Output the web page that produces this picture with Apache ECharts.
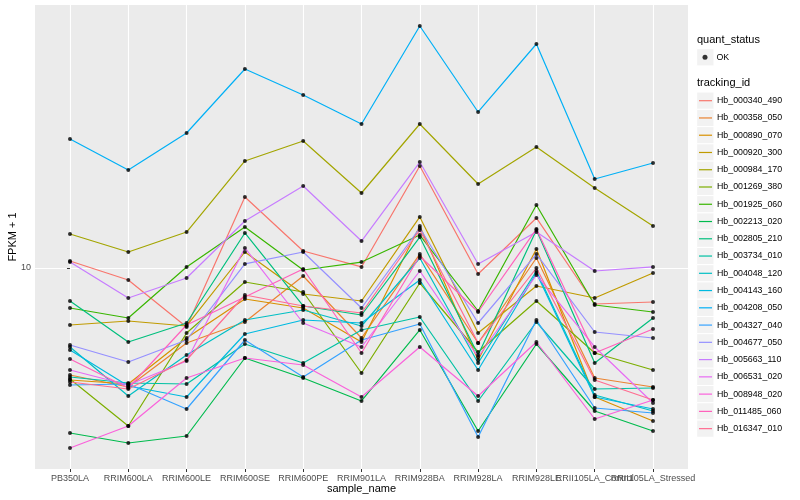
<!DOCTYPE html>
<html><head><meta charset="utf-8">
<script src="https://cdn.jsdelivr.net/npm/echarts@6/dist/echarts.min.js"></script>
<style>html,body{margin:0;padding:0;background:#fff}#c{width:800px;height:500px}</style>
</head><body><div id="c"></div>
<script>
const categories = ['PB350LA','RRIM600LA','RRIM600LE','RRIM600SE','RRIM600PE','RRIM901LA','RRIM928BA','RRIM928LA','RRIM928LE','RRII105LA_Control','RRII105LA_Stressed'];
const trackingIds = ['Hb_000340_490','Hb_000358_050','Hb_000890_070','Hb_000920_300','Hb_000984_170','Hb_001269_380','Hb_001925_060','Hb_002213_020','Hb_002805_210','Hb_003734_010','Hb_004048_120','Hb_004143_160','Hb_004208_050','Hb_004327_040','Hb_004677_050','Hb_005663_110','Hb_006531_020','Hb_008948_020','Hb_011485_060','Hb_016347_010'];
const colors = ['#F8766D','#EA8331','#D89000','#C09B00','#A3A500','#7CAE00','#39B600','#00BB4E','#00BF7D','#00C1A3','#00BFC4','#00BAE0','#00B0F6','#35A2FF','#9590FF','#C77CFF','#E76BF3','#FA62DB','#FF62BC','#FF6C91'];
const yTickValues = [10];

// FPKM + 1 per sample, one array per tracking_id
const hb_000340_490 = [10.47, 9.241, 6.783, 15.95, 11.18, 10.07, 19.56, 9.613, 13.90, 7.891, 7.996];
const hb_000358_050 = [4.946, 4.571, 6.105, 7.010, 9.487, 6.310, 10.96, 6.105, 10.68, 4.850, 4.571];
const hb_000890_070 = [4.786, 4.662, 6.310, 8.155, 7.686, 6.146, 13.18, 5.459, 11.33, 4.280, 3.655];
const hb_000920_300 = [6.873, 7.056, 6.828, 11.11, 8.428, 8.049, 13.99, 6.521, 8.883, 8.209, 9.677];
const hb_000984_170 = [12.51, 11.11, 12.67, 20.22, 23.06, 16.38, 25.79, 17.38, 22.17, 16.93, 13.18];
const hb_001269_380 = [4.818, 3.536, 6.521, 9.120, 8.540, 5.012, 9.060, 5.754, 8.049, 5.717, 5.112];
const hb_001925_060 = [7.686, 7.197, 10.07, 13.10, 9.869, 10.40, 12.42, 7.536, 15.14, 7.839, 7.487];
const hb_002213_020 = [3.377, 3.162, 3.311, 5.532, 4.850, 4.169, 6.651, 3.422, 6.065, 3.903, 3.422];
const hb_002805_210 = [8.049, 6.146, 6.964, 12.59, 7.788, 7.340, 12.26, 5.642, 12.84, 5.353, 7.197];
const hb_003734_010 = [4.882, 4.693, 4.662, 6.065, 5.353, 6.651, 7.244, 4.169, 7.010, 4.511, 4.541];
const hb_004048_120 = [5.947, 4.308, 5.642, 7.103, 7.586, 6.828, 10.68, 5.353, 9.805, 4.337, 3.903];
const hb_004143_160 = [5.831, 4.601, 4.280, 6.478, 7.103, 6.964, 9.241, 5.112, 9.677, 4.280, 3.955];
const hb_004208_050 = [23.37, 19.05, 24.31, 37.03, 31.21, 25.79, 49.14, 27.91, 43.65, 17.96, 19.95];
const hb_004327_040 = [4.631, 4.662, 3.955, 6.227, 4.882, 6.227, 6.918, 3.290, 7.103, 3.981, 3.852];
const hb_004677_050 = [6.026, 5.388, 6.227, 10.27, 11.11, 7.686, 13.01, 6.964, 10.96, 6.564, 6.310];
const hb_005663_110 = [10.40, 8.209, 9.363, 13.62, 17.15, 11.94, 20.08, 10.27, 12.67, 9.805, 10.07];
const hb_006531_020 = [5.112, 4.631, 5.424, 11.41, 6.964, 5.947, 9.805, 5.568, 9.550, 5.947, 4.114];
const hb_008948_020 = [3.060, 3.536, 4.850, 5.532, 5.283, 4.280, 5.947, 4.308, 6.146, 3.703, 4.196];
const hb_011485_060 = [5.495, 4.541, 6.873, 8.263, 9.934, 5.717, 10.82, 7.487, 12.92, 5.717, 6.695];
const hb_016347_010 = [4.724, 4.511, 5.459, 8.373, 7.788, 7.438, 12.84, 6.105, 10.00, 4.786, 4.196];

const seriesValues = [hb_000340_490, hb_000358_050, hb_000890_070, hb_000920_300, hb_000984_170, hb_001269_380, hb_001925_060, hb_002213_020, hb_002805_210, hb_003734_010, hb_004048_120, hb_004143_160, hb_004208_050, hb_004327_040, hb_004677_050, hb_005663_110, hb_006531_020, hb_008948_020, hb_011485_060, hb_016347_010];

const FONT = "'Liberation Sans', Arial, sans-serif";
const NARROW = "'Liberation Sans Narrow', 'Liberation Sans', Arial, sans-serif";
const catIdx = categories.map((_, i) => i);
const evenIdx = catIdx.filter(i => i % 2 === 0);
const oddIdx = catIdx.filter(i => i % 2 === 1);

const lineSeries = trackingIds.map((id, k) => ({
  name: id, type: 'line', symbol: 'none', showSymbol: false, silent: true,
  data: seriesValues[k].map((v, i) => [i, v]),
  lineStyle: { width: 1.2, color: colors[k] }, itemStyle: { color: colors[k] }, z: 2
}));
const points = [];
seriesValues.forEach(arr => arr.forEach((v, i) => points.push([i, v])));
const okSeries = { name: 'OK', type: 'scatter', data: points, symbol: 'circle', symbolSize: 4,
  itemStyle: { color: '#000' }, z: 3, silent: true };

// legend key backgrounds
const KEY = 17.26;
const keyRects = [{ type: 'rect', shape: { x: 696.7, y: 57.3 - KEY / 2, width: KEY, height: KEY },
  style: { fill: '#F2F2F2', stroke: '#fff', lineWidth: 1 }, z: 0 }];
trackingIds.forEach((_, k) => keyRects.push({ type: 'rect',
  shape: { x: 696.7, y: 92.07 + k * KEY, width: KEY, height: KEY },
  style: { fill: '#F2F2F2', stroke: '#fff', lineWidth: 1 }, z: 0 }));

const labelStyle = { margin: 5, fontSize: 9, color: '#4D4D4D', fontFamily: NARROW,
  showMinLabel: true, showMaxLabel: true, hideOverlap: false,
  formatter: v => categories[Math.round(v)] || '' };

const chart = echarts.init(document.getElementById('c'), null, { renderer: 'canvas' });
chart.setOption({
  animation: false,
  backgroundColor: '#fff',
  title: [
    { text: 'quant_status', left: 697, top: 34, padding: 0, textStyle: { fontSize: 11, fontWeight: 'normal', color: '#000', fontFamily: FONT } },
    { text: 'tracking_id', left: 697, top: 77.5, padding: 0, textStyle: { fontSize: 11, fontWeight: 'normal', color: '#000', fontFamily: FONT } }
  ],
  graphic: keyRects,
  legend: [
    { data: ['OK'], orient: 'vertical', left: 702.5, top: 51.3, padding: 0, itemWidth: 5, itemHeight: 5, icon: 'circle',
      selectedMode: false, itemStyle: { color: '#000' },
      textStyle: { fontSize: 8.8, lineHeight: 12, color: '#000', fontFamily: FONT, padding: [0, 0, 0, 4] } },
    { data: trackingIds.map((id, k) => ({ name: id, icon: 'rect', itemStyle: { color: colors[k] } })),
      orient: 'vertical', left: 699, top: 94.7, padding: 0, itemWidth: 13, itemHeight: 1.2, itemGap: KEY - 12,
      selectedMode: false, textStyle: { fontSize: 8.8, lineHeight: 12, color: '#000', fontFamily: FONT } }
  ],
  grid: { left: 35, right: 112, top: 5, bottom: 31, show: true, backgroundColor: '#EBEBEB', borderWidth: 0,
    containLabel: false, outerBoundsMode: 'none' },
  xAxis: [{
    type: 'value', min: -0.6, max: 10.6,
    name: 'sample_name', nameLocation: 'middle', nameGap: 14, nameMoveOverlap: false,
    nameTextStyle: { fontSize: 11, color: '#000', fontFamily: FONT },
    axisLine: { show: false },
    axisTick: { show: true, length: 3, lineStyle: { color: '#333333', width: 1 }, customValues: catIdx },
    axisLabel: Object.assign({ customValues: evenIdx }, labelStyle),
    splitLine: { show: true, lineStyle: { color: '#FFFFFF', width: 1.1 } }
  }, {
    type: 'value', min: -0.6, max: 10.6, position: 'bottom',
    axisLine: { show: false }, axisTick: { show: false }, splitLine: { show: false },
    axisLabel: Object.assign({ customValues: oddIdx }, labelStyle)
  }],
  yAxis: {
    type: 'log', logBase: 10, min: 2.665, max: 56.42,
    name: 'FPKM + 1', nameLocation: 'middle', nameGap: 17, nameRotate: 90, nameMoveOverlap: false,
    nameTextStyle: { fontSize: 11, color: '#000', fontFamily: FONT },
    axisLine: { show: false },
    axisTick: { show: true, length: 3, lineStyle: { color: '#333333', width: 1 }, customValues: yTickValues },
    axisLabel: { customValues: yTickValues, margin: 4, fontSize: 9, color: '#4D4D4D', fontFamily: FONT,
      formatter: v => String(Math.round(v)) },
    splitLine: { show: true, lineStyle: { color: '#FFFFFF', width: 1.1 } }
  },
  series: lineSeries.concat([okSeries])
});
</script></body></html>
